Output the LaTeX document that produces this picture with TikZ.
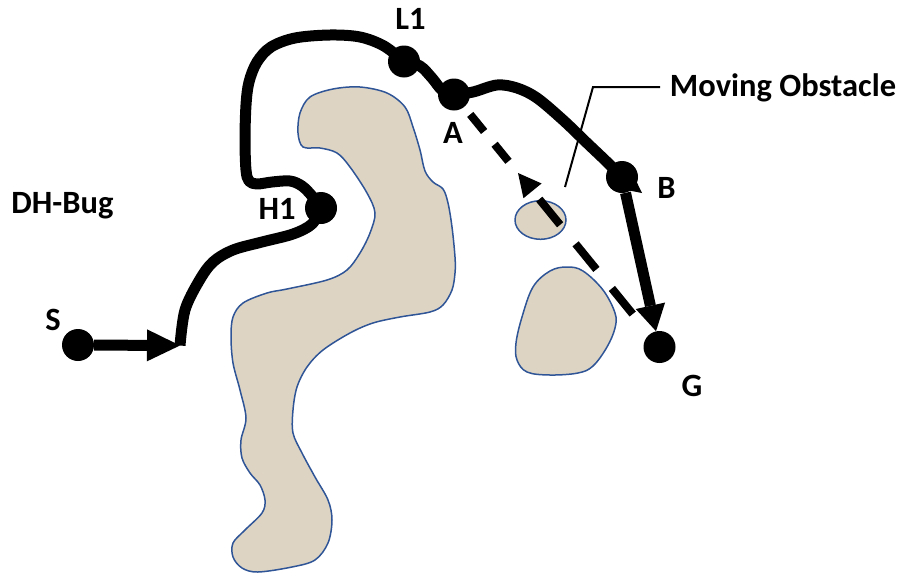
\documentclass[tikz,border=0pt]{standalone}
\usepackage{fontspec}
\setmainfont{Carlito}
\usetikzlibrary{arrows.meta,calc}
\definecolor{obsfill}{HTML}{DDD4C4}
\definecolor{obsline}{HTML}{2F5597}
\pgfdeclarelayer{obstacles}
\pgfdeclarelayer{routes}
\pgfsetlayers{obstacles,routes,main}

\begin{document}
\begin{tikzpicture}[x=1pt,y=-1pt,
  obstacle/.style={fill=obsfill, draw=obsline, line width=1.5pt},
  waypoint/.style={circle, fill=black, inner sep=0pt, minimum size=32pt},
  route/.style={line width=11pt, line join=round},
  detour/.style={line width=8pt},
  lbl/.style={font=\fontsize{32.5}{38}\selectfont\bfseries, anchor=base, inner sep=0pt},
  pointer/.style={line width=2pt}]

\useasboundingbox (0,0) rectangle (899,573);

% way points
\node[waypoint] (S)  at (78,345)     {};
\node[waypoint] (H1) at (321,208)    {};
\node[waypoint] (L1) at (404,61.5)   {};
\node[waypoint] (A)  at (454,94.5)   {};
\node[waypoint] (B)  at (622,177)    {};
\node[waypoint] (G)  at (659.5,347)  {};

\coordinate (sEnd) at (180,345.5);
\coordinate (bTip) at (642,193);
\coordinate (mTip) at (518,173);

% static and moving obstacles
\begin{pgfonlayer}{obstacles}
\draw[obstacle] plot[smooth cycle, tension=0.55] coordinates {
  (300,113) (310,97) (333,89) (360,87) (387,93) (405,107) (413,127)
  (420,150) (425,171) (433,182) (443,189) (448,203) (452,227) (455,257)
  (455,273) (452,290) (443,305) (430,312) (400,317) (373,323) (350,333)
  (323,350) (307,367) (297,387) (293,410) (293,433) (302,453) (315,477)
  (328,500) (332,520) (328,543) (315,560) (292,567) (258,572) (242,568)
  (233,557) (233,543) (245,530) (262,513) (265,500) (260,485) (250,473)
  (242,458) (241,440) (246,418) (240,390) (233,363) (231,337) (233,317)
  (243,303) (267,293) (287,289) (327,280) (347,270) (360,253) (370,233)
  (375,213) (367,193) (350,167) (337,153) (320,148) (303,147) (298,133)};
\draw[obstacle] plot[smooth cycle, tension=0.6] coordinates {
  (567,267) (583,271) (603,290) (615,313) (615,328) (607,347) (593,366)
  (578,373) (550,375) (527,372) (517,360) (516,343) (522,317) (533,287)
  (550,271)};
\draw[obstacle] (540.5,220) ellipse [x radius=25.5pt, y radius=19.3pt];
\end{pgfonlayer}

% DH-Bug route
\begin{pgfonlayer}{routes}
\draw[route, -{Triangle[length=33pt,width=32pt,line width=0pt]}] (S) -- (sEnd);
\draw[route] plot[smooth, tension=0.55] coordinates {
  (sEnd) (185,310) (199,281) (213,262) (233,250) (262,242) (293,234)
  (312,224) (H1.center)};
\draw[route] plot[smooth, tension=0.55] coordinates {
  (H1.center) (312,196) (302,186) (290,181) (272,182) (257,184) (249,181)
  (246,170) (245,140) (246,105) (249,82) (257,62) (271,47) (295,38)
  (330,35) (360,37) (384,46) (L1.center)};
\draw[route] plot[smooth, tension=0.55] coordinates {
  (L1.center) (420,66) (432,78) (442,90) (A.center)};
\draw[route, -{Triangle[length=25pt,width=25pt,line width=0pt]}]
  plot[smooth, tension=0.55] coordinates {
  (A.center) (473,92) (497,85) (517,88) (537,98) (563,120) (587,143)
  (607,162) (B.center) (bTip)};
\draw[route, -{Triangle[length=26pt,width=30pt,line width=0pt]}] (B) -- (G);

% straight-line detour
\draw[detour, dash pattern=on 22pt off 16.5pt, dash phase=29pt] (A) -- (mTip);
\draw[detour, dash pattern=on 33pt off 24.5pt, dash phase=33pt, shorten <=1.8pt,
  -{Triangle[length=23pt,width=23.4pt,line width=0pt]}] (G) -- (mTip);
\end{pgfonlayer}

% callout
\coordinate (c1) at (660,87);
\coordinate (c2) at (593,87);
\coordinate (c3) at (565,187);
\draw[pointer] (c1) -- (c2) -- (c3);

% labels
\node[lbl] (tL1) at (410.5,29)  {L1};
\node[lbl] (tA)  at (453,143)   {A};
\node[lbl] (tH1) at (277,219)   {H1};
\node[lbl] (tDH) at (62.5,213)  {DH-Bug};
\node[lbl] (tS)  at (53,330)    {S};
\node[lbl] (tB)  at (666.5,198.5) {B};
\node[lbl] (tG)  at (692,396.5) {G};
\node[lbl] (tMO) at (783,96)    {Moving Obstacle};
\end{tikzpicture}
\end{document}
